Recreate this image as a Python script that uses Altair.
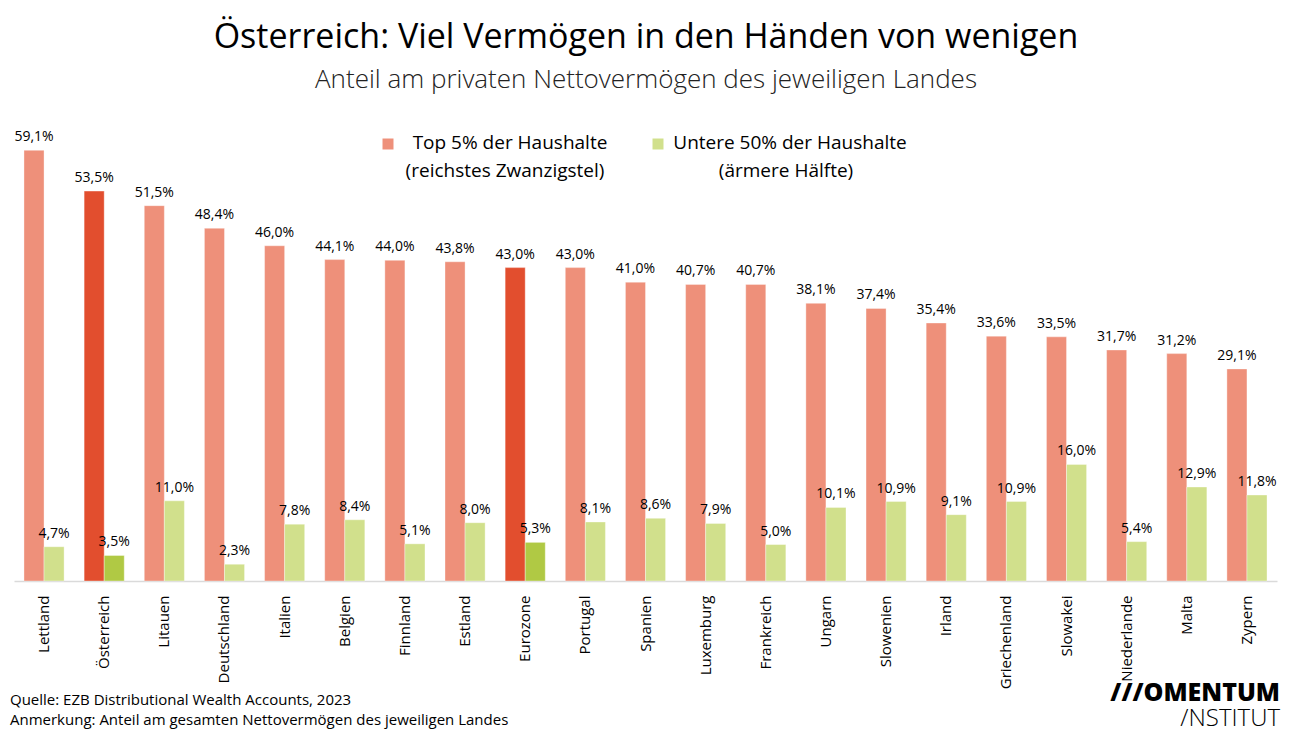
import altair as alt
import pandas as pd

countries = ["Lettland", "Österreich", "Litauen", "Deutschland", "Italien", "Belgien",
             "Finnland", "Estland", "Eurozone", "Portugal", "Spanien", "Luxemburg",
             "Frankreich", "Ungarn", "Slowenien", "Irland", "Griechenland", "Slowakei",
             "Niederlande", "Malta", "Zypern"]
top5 = [59.1, 53.5, 51.5, 48.4, 46.0, 44.1, 44.0, 43.8, 43.0, 43.0, 41.0, 40.7,
        40.7, 38.1, 37.4, 35.4, 33.6, 33.5, 31.7, 31.2, 29.1]
bottom50 = [4.7, 3.5, 11.0, 2.3, 7.8, 8.4, 5.1, 8.0, 5.3, 8.1, 8.6, 7.9,
            5.0, 10.1, 10.9, 9.1, 10.9, 16.0, 5.4, 12.9, 11.8]
highlight = ["Österreich", "Eurozone"]
series = ["Top 5%", "Untere 50%"]

FONT = "Open Sans"

rows = []
for c, t, b in zip(countries, top5, bottom50):
    hl = c in highlight
    rows.append({"land": c, "serie": series[0], "wert": t,
                 "farbe": "top_hl" if hl else "top",
                 "label": f"{t:.1f}".replace(".", ",") + "%"})
    rows.append({"land": c, "serie": series[1], "wert": b,
                 "farbe": "bot_hl" if hl else "bot",
                 "label": f"{b:.1f}".replace(".", ",") + "%"})
df = pd.DataFrame(rows)

color_scale = alt.Scale(domain=["top", "top_hl", "bot", "bot_hl"],
                        range=["#EE907A", "#E24E2E", "#D1E08C", "#B0C944"])

x = alt.X("land:N", sort=countries,
          scale=alt.Scale(paddingInner=0.333, paddingOuter=0.166),
          axis=alt.Axis(title=None, labelAngle=270, labelFontSize=15, labelFont=FONT,
                        labelColor="#000", ticks=False, domainColor="#DADADA",
                        domainWidth=1.5, labelPadding=14, labelAlign="right",
                        labelBaseline="middle"))
y = alt.Y("wert:Q", scale=alt.Scale(domain=[0, 66], nice=False), axis=None)
xo = alt.XOffset("serie:N", sort=series, scale=alt.Scale(paddingInner=0, paddingOuter=0))

base = alt.Chart(df)
bars = base.mark_bar(stroke="#ffffff", strokeWidth=0.6, strokeOpacity=0.6).encode(
    x=x, xOffset=xo, y=y,
    color=alt.Color("farbe:N", scale=color_scale, legend=None))
labels = base.mark_text(baseline="bottom", dy=-6, fontSize=14, font=FONT,
                        color="#000").encode(
    x=x, xOffset=xo, y=y, text="label:N")

# Title / subtitle
title_df = pd.DataFrame({"t": ["Österreich: Viel Vermögen in den Händen von wenigen"]})
title = alt.Chart(title_df).mark_text(fontSize=34, font=FONT, fontWeight=500,
                                      color="#000", align="center", baseline="middle").encode(
    x=alt.value(632), y=alt.value(-62), text="t:N")
sub_df = pd.DataFrame({"t": ["Anteil am privaten Nettovermögen des jeweiligen Landes"]})
subtitle = alt.Chart(sub_df).mark_text(fontSize=26, font=FONT, fontWeight=300,
                                       color="#222", align="center", baseline="middle").encode(
    x=alt.value(632), y=alt.value(-20), text="t:N")

# Legend
leg_sq = pd.DataFrame({"c": ["top", "bot"], "px": [374, 644]})
legend_sq = alt.Chart(leg_sq).mark_square(size=121, opacity=1).encode(
    x=alt.X("px:Q", scale=None), y=alt.value(44),
    color=alt.Color("c:N", scale=color_scale, legend=None))
leg_txt = pd.DataFrame({
    "t": ["Top 5% der Haushalte", "(reichstes Zwanzigstel)",
          "Untere 50% der Haushalte", "(ärmere Hälfte)"],
    "px": [496, 491, 776, 772],
    "py": [43, 71, 43, 71]})
legend_txt = alt.Chart(leg_txt).mark_text(fontSize=19, font=FONT, color="#000",
                                          align="center", baseline="middle").encode(
    x=alt.X("px:Q", scale=None), y=alt.Y("py:Q", scale=None), text="t:N")

# Footnotes
foot_df = pd.DataFrame({
    "t": ["Quelle: EZB Distributional Wealth Accounts, 2023",
          "Anmerkung: Anteil am gesamten Nettovermögen des jeweiligen Landes"],
    "py": [600, 620]})
foot = alt.Chart(foot_df).mark_text(fontSize=15, font=FONT, color="#000",
                                    align="left", baseline="middle").encode(
    x=alt.value(-4), y=alt.Y("py:Q", scale=None), text="t:N")

logo1 = alt.Chart(pd.DataFrame({"t": ["///OMENTUM"]})).mark_text(
    fontSize=25, font=FONT, fontWeight=800, color="#000", align="right",
    baseline="middle").encode(x=alt.value(1266), y=alt.value(593), text="t:N")
logo2 = alt.Chart(pd.DataFrame({"t": ["/NSTITUT"]})).mark_text(
    fontSize=24, font=FONT, fontWeight=300, color="#000", align="right",
    baseline="middle").encode(x=alt.value(1266), y=alt.value(619), text="t:N")

chart = alt.layer(bars, labels, title, subtitle, legend_sq, legend_txt, foot, logo1, logo2).resolve_scale(
    color="independent").properties(
    width=1263, height=481,
    background="#ffffff",
    autosize=alt.AutoSizeParams(type="none"),
    padding={"left": 6, "top": 92, "right": 7, "bottom": 150}
).configure_view(stroke="transparent", strokeWidth=0)

chart.save("out.html", embed_options={"renderer": "svg", "actions": False})
